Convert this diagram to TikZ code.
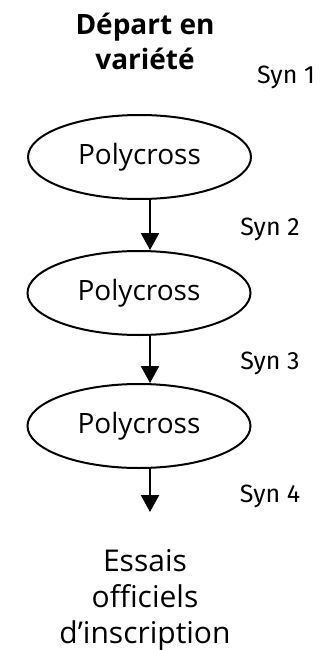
\documentclass[tikz,border=0pt]{standalone}
\usepackage{fontspec}
\setmainfont{Open Sans}
\newfontfamily\synfont{Fira Sans}
\usetikzlibrary{shapes.geometric,arrows.meta}
\tikzset{
  poly/.style={ellipse, draw, line width=2pt, minimum width=223pt, minimum height=84pt, inner sep=0pt, font=\fontsize{28}{30}\selectfont},
  syn/.style={font=\synfont\fontsize{25}{28}\selectfont, inner sep=0pt},
  flow/.style={line width=2.4pt, -{Triangle[length=17pt,width=18pt]}},
  txt/.style={align=center, inner sep=0pt}
}
\begin{document}
\begin{tikzpicture}[x=1pt,y=-1pt]
\useasboundingbox (0,0) rectangle (329,650);
\node[txt, font=\bfseries\fontsize{28}{35}\selectfont] (start) at (145,41) {Départ en\\variété};
\node[syn] (s1) at (286,77) {Syn 1};
\node[poly] (p1) at (139.5,157) {\raisebox{4pt}{Polycross}\hspace{18pt}};
\node[poly] (p2) at (139,293) {\raisebox{4pt}{Polycross}\hspace{18pt}};
\node[poly] (p3) at (139,426) {\raisebox{4pt}{Polycross}\hspace{18pt}};
\node[syn] (s2) at (270,229) {Syn 2};
\node[syn] (s3) at (270,363) {Syn 3};
\node[syn] (s4) at (270,496) {Syn 4};
\coordinate (e) at (150,512);
\node[txt, font=\fontsize{30}{36}\selectfont] (end) at (145,600) {Essais\\officiels\\d’inscription};
\draw[flow] (p1.south -| e) -- (e |- p2.north);
\draw[flow] (p2.south -| e) -- (e |- p3.north);
\draw[flow] (p3.south -| e) -- (e);
\end{tikzpicture}
\end{document}
